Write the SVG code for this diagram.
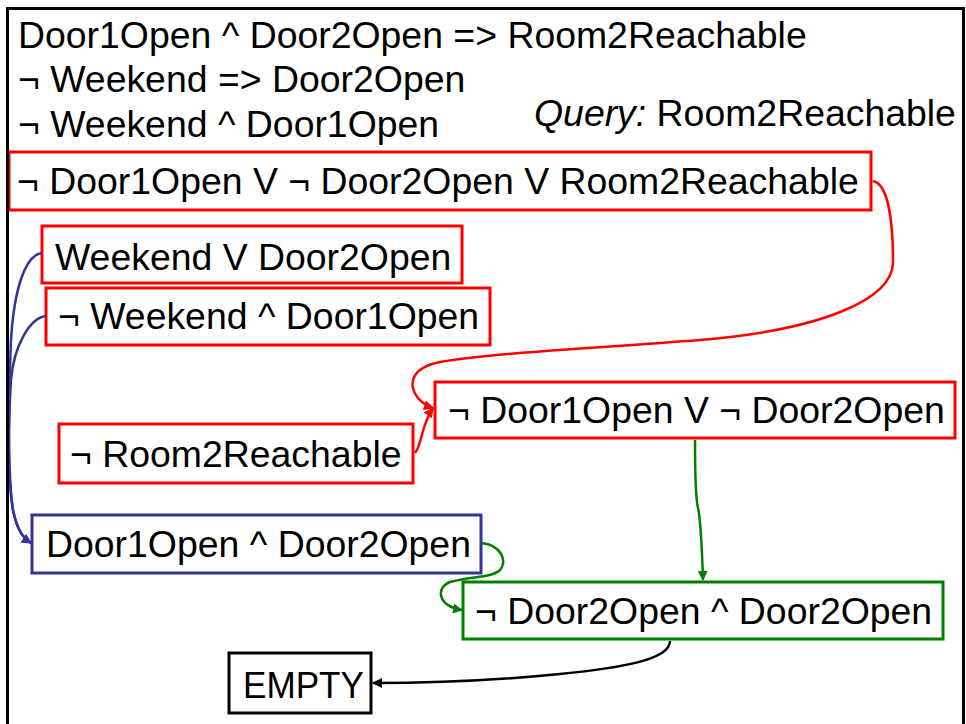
<svg xmlns="http://www.w3.org/2000/svg" width="966" height="724" viewBox="0 0 966 724">
  <style>
    text { font-family: "Liberation Sans", Arial, Helvetica, sans-serif; font-size: 37.4px; fill: #000; }
    .it { font-style: italic; }
    .box { fill: #fff; stroke-width: 3; }
    .red { stroke: #ff0000; }
    .blue { stroke: #333399; }
    .green { stroke: #008000; }
    .black { stroke: #000; }
    .edge { fill: none; stroke-width: 2.5; }
  </style>
  <defs>
    <marker id="arrRed" viewBox="0 0 10 10" refX="9" refY="5" markerWidth="10" markerHeight="10" markerUnits="userSpaceOnUse" orient="auto">
      <path d="M0,0 L10,5 L0,10 z" fill="#ff0000"/>
    </marker>
    <marker id="arrBlue" viewBox="0 0 10 10" refX="9" refY="5" markerWidth="10" markerHeight="10" markerUnits="userSpaceOnUse" orient="auto">
      <path d="M0,0 L10,5 L0,10 z" fill="#333399"/>
    </marker>
    <marker id="arrGreen" viewBox="0 0 10 10" refX="9" refY="5" markerWidth="10" markerHeight="10" markerUnits="userSpaceOnUse" orient="auto">
      <path d="M0,0 L10,5 L0,10 z" fill="#008000"/>
    </marker>
    <marker id="arrBlack" viewBox="0 0 10 10" refX="9" refY="5" markerWidth="10" markerHeight="10" markerUnits="userSpaceOnUse" orient="auto">
      <path d="M0,0 L10,5 L0,10 z" fill="#000"/>
    </marker>
  </defs>

  <rect width="966" height="724" fill="#fff"/>

  <!-- knowledge base and query -->
  <g id="kb">
    <text x="18" y="48">Door1Open ^ Door2Open =&gt; Room2Reachable</text>
    <text x="18" y="92">¬ Weekend =&gt; Door2Open</text>
    <text x="18" y="137">¬ Weekend ^ Door1Open</text>
  </g>
  <g id="query">
    <text x="534" y="126"><tspan class="it">Query:</tspan> Room2Reachable</text>
  </g>

  <!-- clauses -->
  <g id="c1">
    <rect class="box red" x="9" y="152" width="862" height="58"/>
    <text x="17" y="194">¬ Door1Open V ¬ Door2Open V Room2Reachable</text>
  </g>
  <g id="c2">
    <rect class="box red" x="42" y="226" width="420" height="57"/>
    <text x="55" y="270">Weekend V Door2Open</text>
  </g>
  <g id="c3">
    <rect class="box red" x="46" y="288" width="444" height="57"/>
    <text x="58" y="329">¬ Weekend ^ Door1Open</text>
  </g>
  <g id="c4">
    <rect class="box red" x="59" y="424" width="354" height="59"/>
    <text x="70" y="467">¬ Room2Reachable</text>
  </g>
  <g id="c5">
    <rect class="box red" x="435" y="382" width="520" height="56"/>
    <text x="448" y="423">¬ Door1Open V ¬ Door2Open</text>
  </g>
  <g id="c6">
    <rect class="box blue" x="32" y="515" width="449" height="58"/>
    <text x="46" y="557">Door1Open ^ Door2Open</text>
  </g>
  <g id="c7">
    <rect class="box green" x="463" y="582" width="480" height="57"/>
    <text x="475" y="624">¬ Door2Open ^ Door2Open</text>
  </g>
  <g id="c8">
    <rect class="box black" x="229" y="653" width="142" height="60"/>
    <text x="243" y="698" textLength="121" lengthAdjust="spacingAndGlyphs">EMPTY</text>
  </g>

  <!-- resolution steps -->
  <g id="connectors">
    <path class="edge red" marker-end="url(#arrRed)" d="M873,181 C888,184 893,220 893,262 C893,300 820,330 700,340 C600,348 500,352 440,362 C410,368 408,385 418,398 C422,403 427,406 433,408"/>
    <path class="edge red" marker-end="url(#arrRed)" d="M415,453 C422,445 421,425 433,408"/>
    <path class="edge blue" marker-end="url(#arrBlue)" d="M42,253 C25,255 14,290 11,340 C8,400 8,480 13,510 C17,530 23,538 31,543"/>
    <path class="edge blue" marker-end="url(#arrBlue)" d="M46,316 C30,318 14,345 11,380 C8,430 8,480 13,510 C17,530 23,538 31,543"/>
    <path class="edge green" marker-end="url(#arrGreen)" d="M695,440 C695,470 696,500 698,508 C701,520 702,550 703,580"/>
    <path class="edge green" marker-end="url(#arrGreen)" d="M482,543 C500,545 508,560 500,570 C492,578 470,576 450,582 C435,588 438,606 462,610"/>
    <path class="edge black" stroke-width="3" marker-end="url(#arrBlack)" d="M670,641 C670,660 620,668 560,674 C500,680 430,683 373,683"/>
  </g>

  <!-- outer frame -->
  <rect x="7.5" y="8.5" width="956" height="730" fill="none" stroke="#000" stroke-width="3"/>
</svg>
